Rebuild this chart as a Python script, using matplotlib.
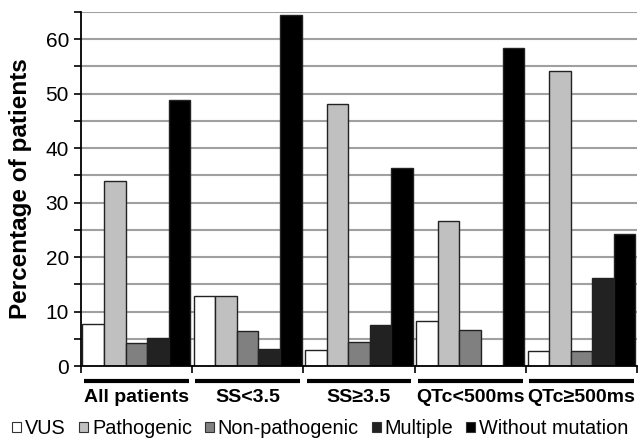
import numpy as np
import matplotlib.pyplot as plt
from matplotlib.patches import Patch
from matplotlib.transforms import blended_transform_factory

plt.rcParams['font.family'] = ['Liberation Sans', 'DejaVu Sans']

groups = ['All patients', 'SS<3.5', 'SS≥3.5', 'QTc<500ms', 'QTc≥500ms']
series = ['VUS', 'Pathogenic', 'Non-pathogenic', 'Multiple', 'Without mutation']
vus = [7.8, 12.9, 3.0, 8.2, 2.7]
pathogenic = [34.0, 12.9, 48.1, 26.6, 54.1]
non_pathogenic = [4.3, 6.5, 4.5, 6.7, 2.7]
multiple = [5.2, 3.2, 7.6, 0.0, 16.2]
without = [48.8, 64.5, 36.4, 58.3, 24.3]
colors = ['#ffffff', '#c0c0c0', '#808080', '#222222', '#000000']

fig = plt.figure(figsize=(6.41, 4.41), dpi=100)
ax = fig.add_axes([0.126, 0.170, 0.868, 0.803])

x = np.arange(len(groups))
w = 0.194
values = [vus, pathogenic, non_pathogenic, multiple, without]
for k, (vals, c) in enumerate(zip(values, colors)):
    ax.bar(x + (k - 2) * w, vals, width=w, color=c, edgecolor='#222222',
           linewidth=1.0, zorder=3)

ax.set_xlim(-0.5, len(groups) - 0.5)
ax.set_ylim(0, 65)
ax.set_yticks(np.arange(0, 61, 10))
ax.set_yticks(np.arange(5, 66, 10), minor=True)
ax.yaxis.grid(True, which='both', color='#a0a0a0', linewidth=1.5, zorder=0)
ax.tick_params(axis='y', which='both', length=5, width=1.2, labelsize=15)
ax.set_xticks(np.arange(-0.5, len(groups), 1.0))
ax.set_xticklabels([])
ax.tick_params(axis='x', length=5, width=1.2)
for s in ['top', 'right']:
    ax.spines[s].set_visible(False)
for s in ['left', 'bottom']:
    ax.spines[s].set_linewidth(1.3)
    ax.spines[s].set_zorder(4)

ax.set_ylabel('Percentage of patients', fontsize=17.5, fontweight='bold', labelpad=10)

trans = blended_transform_factory(ax.transData, ax.transAxes)
for i, g in enumerate(groups):
    ax.plot([i - 0.47, i + 0.47], [-0.043, -0.043], color='black', linewidth=3,
            transform=trans, clip_on=False, solid_capstyle='butt')
    ax.text(i, -0.09, g, transform=trans, ha='center', va='center',
            fontsize=14, fontweight='bold')

handles = [Patch(facecolor=c, edgecolor='#333333', linewidth=0.8) for c in colors]
fig.legend(handles, series, loc='center', bbox_to_anchor=(0.5, 0.028), ncol=5,
           frameon=False, fontsize=14.3, handlelength=0.45, handleheight=0.45,
           handletextpad=0.2, columnspacing=0.65, borderaxespad=0, borderpad=0)

fig.savefig('out.png', dpi=100)
